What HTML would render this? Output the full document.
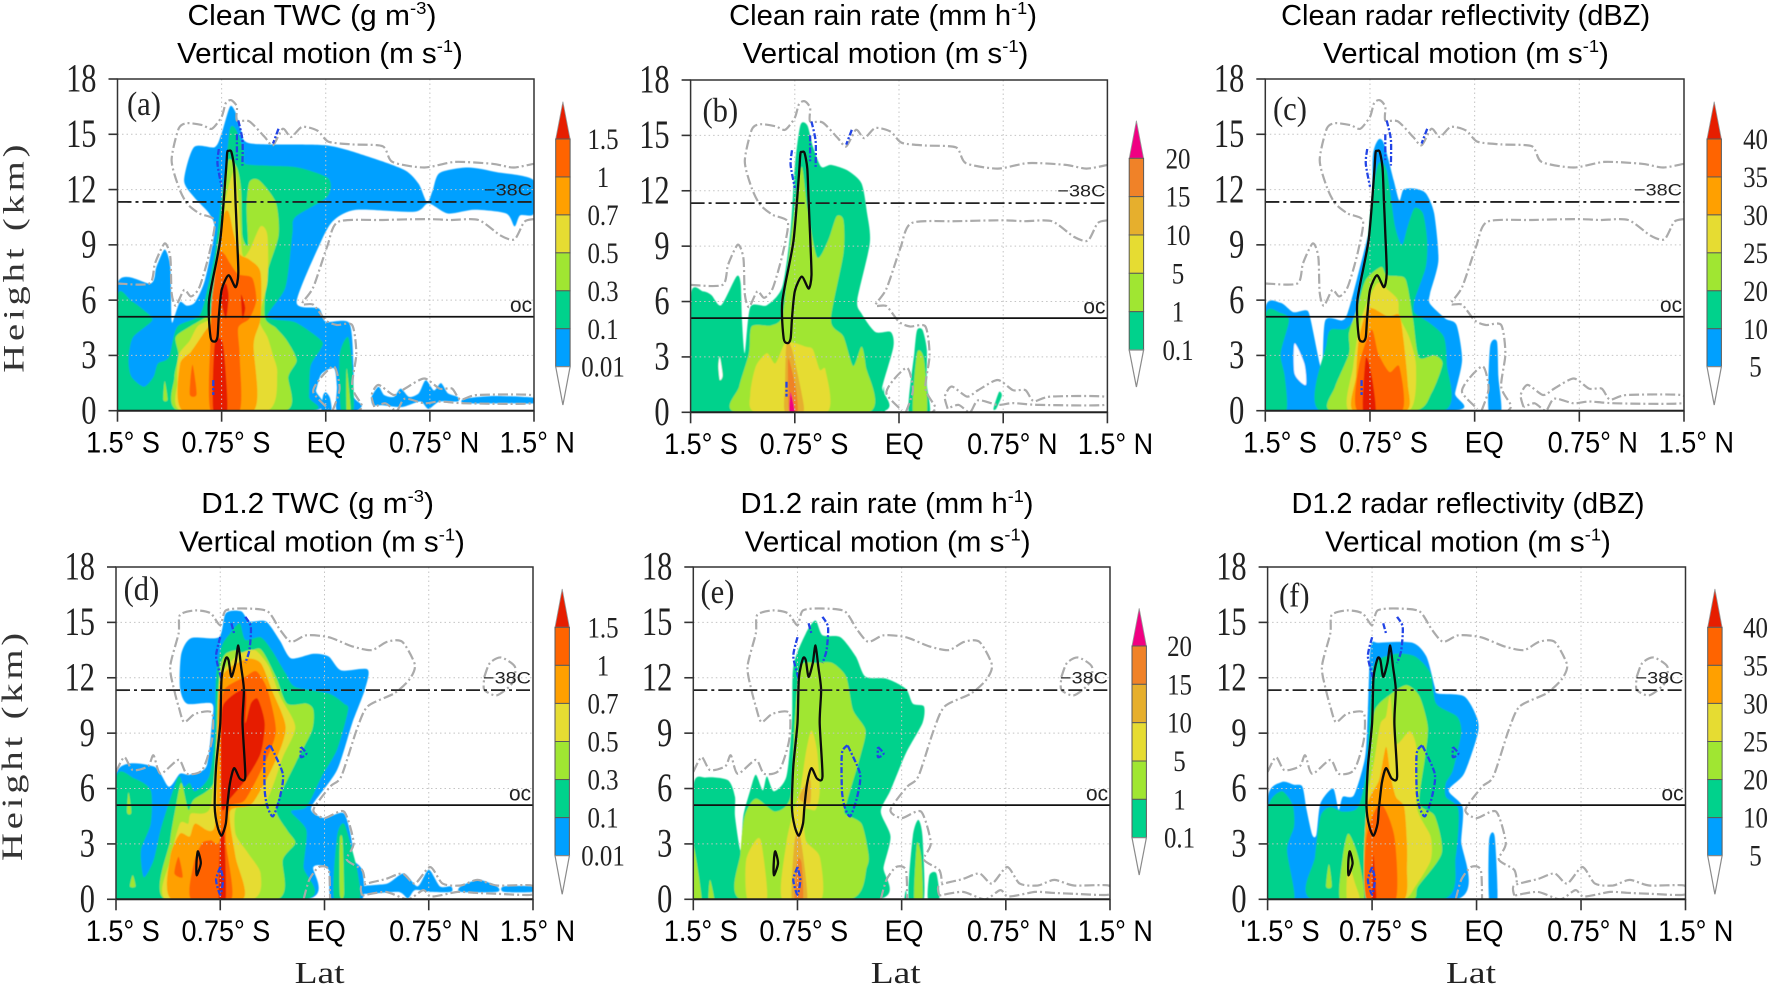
<!DOCTYPE html>
<html lang="en">
<head>
<meta charset="utf-8">
<title>Clean and D1.2 latitude-height cross sections</title>
<style>
html,body{margin:0;padding:0;background:#fff;}
svg{display:block;}
</style>
</head>
<body>
<svg id="fig" xmlns="http://www.w3.org/2000/svg" width="1768" height="986" viewBox="0 0 1768 986">
<defs><filter id="soft" x="-5%" y="-5%" width="110%" height="110%"><feGaussianBlur stdDeviation="0.5"/></filter></defs>
</svg>
<script>
/* ---------- axis categories and tick labels ---------- */
const latTicks = [-1.5, -0.75, 0, 0.75, 1.5];
const latLabels = ['1.5° S', '0.75° S', 'EQ', '0.75° N', '1.5° N'];
const heightTicks = [0, 3, 6, 9, 12, 15, 18];
const freezingLevelKm = 5.1;
const homogeneousLevelKm = 11.33;
const twcTicks = ['1.5', '1', '0.7', '0.5', '0.3', '0.1', '0.01'];
const rainTicks = ['20', '15', '10', '5', '1', '0.1'];
const dbzTicks = ['40', '35', '30', '25', '20', '10', '5'];

/* ---------- all shapes below are flat lists: lat, km, lat, km ... ---------- */
/* (a) Clean TWC */
const aLevel1 = [
 [-1.5,0,-1.5,6.9,-1.26,6.9,-1.22,7.8,-1.16,8.75,-1.12,7.8,-1.11,4.9,-1.09,5.1,-1.05,5.9,-1,5.7,-.94,5.9,-.87,7.1,-.8,9.8,-.84,10.7,-.95,11.6,-1.02,12.5,-.95,14.3,-.8,14.3,-.75,15.05,-.69,16.5,-.65,16.2,-.61,15.2,-.54,14.5,0,14.4,.3,13.8,.57,13.05,.67,12.3,.73,11.3,.77,11.95,.82,12.9,1.02,13.2,1.23,12.95,1.5,12.5,1.5,10.7,1.4,10.6,1.36,10,1.3,10.7,1.07,10.9,.88,10.7,.74,11.25,.64,10.8,.22,10.9,.06,10.35,-.03,9.25,-.21,5.9,-.05,5.55,0,4.83,.17,4.75,.2,2.4,.2,.8,.26,.3,.22,0,.08,0,.08,1.3,.06,2.3,-.03,2,-.07,1.1,-.1,0],
 [-.03,0,-.02,.8,0,1,.03,.7,.04,0],
 [.33,.75,.38,1.3,.42,.85,.49,.75,.54,1.2,.6,.75,.67,.95,.72,1.65,.78,1.1,.83,1.5,.88,.95,.95,.75,.95,.5,.82,.5,.74,.1,.68,.5,.55,.2,.41,.3,.34,.3],
 [1,.65,1.21,.8,1.5,.7,1.5,.4,1.3,.4,1,.4]
];
const aLevel2 = [
 [-1.5,0,-1.5,6.2,-1.4,5.95,-1.31,5.45,-1.25,4.9,-1.39,3.96,-1.42,2.75,-1.4,1.85,-1.31,1.3,-1.24,1.85,-1.21,2.55,-1.13,2.9,-1.07,4.55,-.91,5.15,-.85,6.7,-.8,8.5,-.75,11.6,-.72,13.2,-.69,15.3,-.65,15.3,-.59,14.1,-.58,13.4,-.42,13.3,-.2,13.2,.02,12.6,.01,11.6,-.22,10.5,-.24,9.6,-.29,6.7,-.42,5.1,-.22,4.8,-.03,3.8,-.04,3.3,-.11,2.4,-.12,.75,-.13,0],
 [.11,0,.1,3,.16,4,.19,2.5,.2,0]
];
const aLevel3 = [
 [-1.06,0,-1.09,1.8,-1.06,3,-1.08,4,-.97,4.6,-.8,5.4,-.77,6.2,-.75,9,-.74,11.6,-.7,13.6,-.64,13.2,-.61,12,-.6,9.5,-.56,9,-.57,11,-.55,12.4,-.48,12.5,-.36,11.3,-.34,9.5,-.42,7.5,-.44,5.1,-.36,4.5,-.28,3.8,-.21,2.75,-.27,1.85,-.29,0],
 [.15,0,.15,2.3,.18,0],
 [-1.17,.6,-1.16,1.6,-1.14,.6]
];
const aLevel4 = [
 [-1.04,0,-1.07,1.5,-1.06,3,-.98,3.8,-.92,4.6,-.8,5.2,-.78,7,-.75,9,-.72,11.5,-.66,13,-.63,11.5,-.6,8.5,-.55,8.7,-.47,10,-.42,9.5,-.42,7,-.48,5,-.42,4,-.38,3,-.35,2,-.42,0]
];
const aLevel5 = [
 [-1.03,0,-1.05,2.5,-.97,3.2,-.88,4.2,-.8,5.2,-.8,7.5,-.74,10.5,-.7,10.8,-.66,9.5,-.62,8.5,-.55,8.2,-.47,7.5,-.47,5,-.52,3.6,-.52,0]
];
const aLevel6 = [
 [-.83,0,-.83,4,-.82,6,-.77,8.5,-.73,8.5,-.69,8,-.63,7.4,-.53,7.2,-.5,6,-.55,5,-.63,4.5,-.62,3,-.62,0],
 [-.98,.9,-.96,2.5,-.93,.9]
];
const aLevel7 = [
 [-.81,0,-.8,3.6,-.74,3.6,-.71,0],
 [-.76,6.3,-.72,6.9,-.7,6.2,-.72,5],
 [-.61,6.3,-.58,5.6,-.6,5]
];
/* (b) Clean rain rate */
const bLevel1 = [
 [-1.5,0,-1.5,6.35,-1.41,6.55,-1.35,6.35,-1.28,5.8,-1.17,7.35,-1.14,7,-1.13,5,-1.11,3.2,-1.07,5.7,-.95,5.8,-.84,6.8,-.78,9.9,-.75,13.3,-.71,15.55,-.66,15.55,-.62,14.4,-.56,13.3,-.49,13.4,-.37,13.1,-.27,12.4,-.23,10.8,-.21,9.15,-.3,6.1,-.27,5.35,-.17,4.35,-.06,4.35,-.04,3.55,-.12,1.4,-.15,0],
 [-.12,0,-.11,1.4,-.1,0],
 [.07,0,.11,3.2,.13,4.45,.17,4.45,.2,3.4,.2,1.55,.22,0],
 [.68,.2,.72,1.1,.74,.9,.7,.2]
];
const bHole = [[-1.29,3,-1.27,2,-1.29,1.75,-1.3,2.5]];
const bLevel2 = [
 [-1.17,0,-1.15,1.4,-1.08,3.2,-1.06,4.65,-.92,4.7,-.84,5.2,-.8,7.9,-.75,11.1,-.7,13.3,-.66,11.1,-.59,8.4,-.51,9.3,-.45,10.6,-.4,10.4,-.4,8.6,-.49,5,-.4,4.1,-.33,2.5,-.27,3.55,-.24,2.5,-.22,0],
 [.1,0,.13,3.2,.18,2.85,.2,0]
];
const bLevel3 = [[-1.03,0,-1.07,1,-1.03,2.5,-.95,3.2,-.89,2.65,-.82,3.75,-.75,3.75,-.67,3.55,-.62,3.4,-.57,2.3,-.53,2.3,-.52,0]];
const bLevel4 = [[-.82,0,-.82,1.55,-.81,3.75,-.77,3.4,-.7,1,-.69,0]];
const bLevel5 = [[-.79,0,-.8,2.5,-.79,2.85,-.74,1.2,-.73,0]];
const bLevel6 = [[-.79,0,-.78,1.1,-.75,0]];
/* (c) Clean radar reflectivity */
const cLevel1 = [
 [-1.5,0,-1.5,5.55,-1.39,5.85,-1.3,5.35,-1.21,5.45,-1.18,5.1,-1.11,2.55,-1.09,2.4,-1.07,4.9,-.95,4.9,-.91,5.3,-.84,7.25,-.74,10.5,-.73,13.8,-.69,14.7,-.65,14.5,-.58,12.5,-.54,11.4,-.51,12,-.43,12.05,-.35,11.8,-.29,10.7,-.26,8.15,-.32,6.35,-.32,5.8,-.21,5,-.13,4.65,-.09,2.75,-.14,.95,-.15,0],
 [.1,0,.11,3.45,.16,3.75,.17,1.85,.19,0]
];
const cHole = [[-1.29,3.65,-1.22,2.55,-1.21,1.4,-1.29,2]];
const cLevel2 = [
 [-1.5,0,-1.5,5.2,-1.39,5.3,-1.33,4.9,-1.39,3.1,-1.36,1.85,-1.35,0],
 [-1.11,0,-1.06,3.65,-1.03,4.4,-.92,4.45,-.85,5.3,-.78,8.35,-.74,11.4,-.69,13.4,-.63,13.05,-.57,10,-.52,9,-.48,10,-.43,11,-.37,10.7,-.34,9.25,-.35,7.8,-.43,6,-.43,5.3,-.32,4.75,-.22,4,-.2,2.55,-.22,0]
];
const cLevel3 = [[-1.03,0,-1,1.3,-.9,3.1,-.9,4.2,-.84,5.6,-.78,7.1,-.67,7.8,-.63,7.35,-.51,7.25,-.48,6.7,-.44,4.9,-.4,2.9,-.29,3,-.23,2.55,-.31,.95,-.43,0]];
const cLevel4 = [[-.9,0,-.87,2.4,-.84,4,-.8,5.3,-.7,6.9,-.62,6.55,-.55,6,-.54,5.1,-.47,4,-.42,2.4,-.47,0]];
const cLevel5 = [[-.87,0,-.85,1.85,-.83,3.85,-.76,5.55,-.62,5.1,-.54,5.2,-.51,3.85,-.48,1.5,-.49,0]];
const cLevel6 = [[-.84,0,-.83,2.4,-.74,4.4,-.69,3.1,-.61,2.1,-.54,2.4,-.52,0]];
const cLevel7 = [[-.8,0,-.78,2.85,-.74,2,-.71,0]];
/* (d) D1.2 TWC */
const dLevel1 = [
 [-1.5,0,-1.5,6.8,-1.23,7.2,-1.12,6.1,-1.04,6.8,-.97,6.75,-.85,7.2,-.81,9.55,-.81,10.6,-.99,10.6,-1.04,11.5,-1.03,13.3,-.96,14.15,-.76,14.2,-.71,15.5,-.6,15.6,-.54,15.05,-.42,15.05,-.32,14,-.24,13.05,-.08,13.3,.03,13.15,.12,12.4,.31,12.45,.29,11.35,.2,9.55,.09,7,-.08,5.2,-.09,4.75,0,4.4,.14,4.65,.2,3,.18,2.3,.27,1.6,.27,0,.05,0,.03,1.6,-.08,1.75,-.13,0],
 [.28,.7,.45,.85,.57,1.4,.67,.7,.75,1.6,.83,.7,.91,.7,.91,.4,.76,.4,.65,.5,.6,.05,.53,.4,.28,.3],
 [.98,.7,1.11,1.05,1.24,.7,1.24,.4,.98,.4],
 [1.29,.7,1.5,.7,1.5,.4,1.29,.4]
];
const dLevel2 = [
 [-1.5,0,-1.5,6.55,-1.37,6.55,-1.25,5.9,-1.25,4.1,-1.32,2.65,-1.3,1.2,-1.23,2.1,-1.18,3.75,-1.12,5.2,-1.05,6.65,-1.01,6.1,-.97,6.3,-.93,5.85,-.83,6.65,-.79,8.8,-.78,12.05,-.74,13.7,-.68,14.4,-.61,14.95,-.57,14.05,-.46,14.2,-.38,13.5,-.28,12.25,-.21,11.5,.03,11.15,.14,10.6,.17,10.25,.09,8.1,-.02,6.65,-.13,5,-.24,4.75,-.13,3.75,-.15,1.75,-.14,0],
 [.07,0,.09,3.4,.14,4.1,.2,2.65,.24,1.4,.25,0]
];
const dLevel3 = [
 [-1.15,0,-1.11,3.2,-1.07,5,-1.03,6.3,-.98,4.85,-.94,5.4,-.79,6.45,-.77,10.6,-.75,12.6,-.71,13.3,-.63,13.5,-.57,13.3,-.46,13.55,-.35,12.05,-.27,10.6,-.13,10.6,-.08,10.25,-.09,9.15,-.21,7.35,-.35,5,-.27,3.75,-.21,3.05,-.3,2.15,-.34,0],
 [.11,.3,.11,3.2,.13,3.2,.14,.3],
 [-1.42,4.7,-1.41,5.8,-1.39,4.7],
 [-1.4,.7,-1.38,1.3,-1.36,.7]
];
const dLevel4 = [
 [-1.14,0,-1.11,2.15,-1.04,4.1,-.98,4.1,-.96,4.65,-.82,5,-.77,9.55,-.75,12.05,-.68,12.8,-.61,13.3,-.5,13.5,-.4,12.6,-.32,11,-.21,9.35,-.3,7.7,-.43,5.2,-.63,5,-.64,3.55,-.55,2.5,-.46,1.4,-.52,0]
];
const dLevel5 = [
 [-1.1,0,-1.11,2.3,-1.04,3.55,-.97,3.4,-.93,4.1,-.79,3.95,-.77,9.55,-.74,12.05,-.57,13,-.46,12.8,-.38,11.35,-.28,9.35,-.35,7.55,-.52,5.2,-.68,4.75,-.64,2.3,-.59,0]
];
const dLevel6 = [
 [-.96,0,-.94,1.95,-.88,3.05,-.82,3.2,-.75,3.4,-.75,9.55,-.72,11.35,-.57,12.05,-.49,12.35,-.41,11.35,-.35,9.2,-.41,7.7,-.57,5.4,-.68,5,-.71,3.2,-.67,0],
 [-1.08,1.4,-1.05,2.3,-1.02,1.2]
];
const dLevel7 = [
 [-.76,0,-.75,3.4,-.72,3.4,-.71,0],
 [-.74,9.9,-.7,10.8,-.57,11.35,-.57,9.55,-.53,10.6,-.48,10.85,-.43,9.55,-.46,7.9,-.57,6.45,-.68,5.45,-.74,5]
];
/* (e) D1.2 rain rate */
const eLevel1 = [
 [-1.5,0,-1.5,6.1,-1.41,6.6,-1.25,6.45,-1.2,5.55,-1.2,4.5,-1.16,2.65,-1.14,4.5,-1.09,5.9,-1.05,6.75,-1,5.9,-.97,6.65,-.92,5.85,-.83,6.65,-.79,9.55,-.78,12.6,-.69,14.4,-.62,15.1,-.57,14.3,-.44,14.2,-.33,13.15,-.26,12.05,-.11,11.95,.03,11.4,.08,10.6,.16,10.45,.15,9.55,.03,7.9,-.08,5.9,-.15,4.75,-.08,3.4,-.13,1.75,-.17,0],
 [.02,0,.03,.5,.04,0],
 [.05,0,.08,3.4,.12,4.3,.15,3.4,.16,0],
 [.19,0,.2,1.3,.25,1.4,.27,0]
];
const eLevel2 = [
 [-1.5,0,-1.5,2.95,-1.44,0],
 [-1.39,0,-1.38,1.05,-1.35,0],
 [-1.16,0,-1.16,2.5,-1.13,4.5,-1.05,5.45,-.91,4.75,-.8,5.55,-.77,9.55,-.73,12.6,-.61,12.8,-.5,12.8,-.4,12.05,-.35,10.25,-.26,9.15,-.3,7.7,-.39,5.4,-.41,4.65,-.29,4.1,-.24,2.5,-.25,1.75,-.37,0],
 [.09,0,.11,3,.14,2.3,.15,0]
];
const eLevel3 = [
 [-1.11,0,-1.12,2.1,-1.05,3.2,-1.01,3.05,-.97,0],
 [-.86,0,-.83,3.05,-.77,5,-.73,5.9,-.69,7.9,-.65,9.15,-.61,8.1,-.59,5.9,-.62,4.85,-.7,4.85,-.69,3.2,-.59,2.3,-.58,0]
];
const eLevel4 = [
 [-.79,0,-.77,3.2,-.73,3.4,-.68,0],
 [-.74,5.5,-.66,6.5,-.66,5.2]
];
const eLevel5 = [[-.77,0,-.75,2.1,-.72,1.95,-.71,0]];
/* (f) D1.2 radar reflectivity */
const fLevel1 = [
 [-1.5,0,-1.5,5.45,-1.4,6.35,-1.31,6.2,-1.25,6.1,-1.22,4.85,-1.18,3.5,-1.15,3.5,-1.12,5.2,-1.03,6,-.99,4.85,-.96,5.55,-.88,5.65,-.8,7.7,-.78,10.25,-.76,13.7,-.7,13.9,-.46,13.9,-.36,13.15,-.3,11.5,-.28,11.15,-.09,11,0,9.9,.01,9,-.09,6.8,-.2,5.9,-.1,5,-.11,3.2,-.14,0],
 [.09,0,.09,3.2,.13,3.4,.15,0]
];
const fLevel2 = [
 [-1.5,0,-1.5,4.85,-1.4,5.85,-1.32,5.1,-1.31,3.95,-1.36,2.65,-1.31,0],
 [-1.18,0,-1.16,2.3,-1.12,4.5,-1.05,5,-.96,4.75,-.85,5,-.79,7,-.76,11,-.73,12.8,-.58,13.3,-.44,13.15,-.33,12.25,-.29,10.6,-.14,9.9,-.11,9,-.17,7,-.22,6.3,-.22,5.55,-.13,4.85,-.15,2.3,-.24,0]
];
const fLevel3 = [
 [-.98,0,-.96,2.3,-.92,3.55,-.85,2.3,-.81,0],
 [-.79,0,-.79,5.2,-.76,8.1,-.73,10.25,-.61,11.15,-.5,11.6,-.41,11,-.35,9.35,-.37,7.7,-.41,5.2,-.3,4.5,-.25,2.5,-.42,.7,-.46,0],
 [-1.08,.7,-1.06,1.9,-1.04,.7]
];
const fLevel4 = [
 [-.93,0,-.92,1.9,-.87,.8,-.84,0],
 [-.79,0,-.79,5,-.73,7.7,-.69,9.5,-.65,9.9,-.62,11,-.58,8.45,-.48,9.1,-.43,8.1,-.43,5,-.33,3.4,-.33,2.1,-.44,.7,-.52,0]
];
const fLevel5 = [[-.79,0,-.79,4.85,-.7,6.45,-.65,8.25,-.62,6.8,-.58,5.55,-.52,5,-.5,3.05,-.5,1.75,-.52,0]];
const fLevel6 = [[-.79,0,-.79,3.4,-.69,5.2,-.59,3.4,-.58,0]];
const fLevel7 = [[-.75,0,-.74,2.4,-.72,0]];

/* ---------- overlay contours ---------- */
const cloudEdgeClean = [
 [-1.5,6.9,-1.27,6.9,-1.23,8,-1.16,9.08,-1.12,8.35,-1.11,6.4,-1.08,5.7,-1.02,6.55,-.97,6.2,-.91,6.7,-.84,8.5,-.8,10.3,-.91,10.7,-1,11.25,-1.06,12.15,-1.11,13.6,-1.06,15.3,-1,15.6,-.89,15.5,-.82,15.3,-.75,15.95,-.72,16.7,-.68,16.85,-.64,16.5,-.64,15.75,-.55,15.7,-.44,14.85,-.38,14.4,-.31,15.3,-.25,14.85,-.17,15.4,-.06,15.2,.02,14.6,.19,14.45,.41,14.35,.48,13.5,.71,13.2,.93,13.5,1.2,13.4,1.35,13.2,1.5,13.4],
 [1.5,10.4,1.43,10.25,1.36,9.3,1.26,9.5,1.1,10.35,.9,10.35,.74,10.4,.41,10.35,.09,10.25,.01,8.9,-.09,6.7,-.17,5.8,-.09,5.75,0,4.9,.08,4.65,.19,4.65,.22,3.1,.19,1.3,.26,.3,.24,0],
 [.05,0,.1,1.2,.06,2.4,-.04,1.75,-.09,1,.02,.1],
 [.35,.2,.33,.85,.38,1.4,.49,.85,.57,1.2,.71,1.75,.82,1.2,.91,1.2,.97,.6,1.09,.85,1.48,.85,1.48,.4,1.01,.4,.82,.5,.71,.4,.57,.65,.51,0,.43,.4,.35,.2]
];
const cloudEdgeD12 = [
 [-1.5,6.9,-1.44,7.7,-1.38,7,-1.27,7.2,-1.23,7.8,-1.18,6.8,-1.05,7.55,-.99,6.8,-.88,7,-.81,8.6,-.81,10.1,-.93,10.05,-1.01,9.6,-1.05,10.45,-1.08,11.3,-1.11,12.6,-1.05,14.4,-1.04,15.4,-.93,15.65,-.82,15.5,-.75,14.85,-.71,15.65,-.57,15.75,-.41,15.6,-.32,14.6,-.24,13.95,-.13,14.3,.03,14.2,.2,13.7,.34,13.5,.45,13.95,.56,13.95,.65,12.7,.61,11.9,.5,11.15,.31,10.45,.23,9.15,.12,6.65,.04,6.1,-.08,4.85,0,4.4,.14,4.75,.21,3.05,.16,2.15,.27,1.6,.29,.9],
 [1.15,12.05,1.19,12.8,1.27,13.1,1.37,12.6,1.35,11.7,1.24,11.05,1.15,11.35,1.15,12.05],
 [-.15,0,-.11,1.05,-.04,1.75,.03,1.6,.04,0],
 [.27,.2,.27,.75,.44,1.1,.56,1.4,.65,.85,.76,1.75,.85,.85,.98,.75,1.1,1.05,1.24,.75,1.49,.75,1.49,.25,1.24,.3,1.08,.35,.96,.4,.77,.15,.71,.5,.6,0,.44,.4,.27,.2]
];
const updraftClean = [
 [-.7,14.1,-.68,14.05,-.66,13.2,-.65,11.4,-.64,9.6,-.63,7.45,-.65,6.7,-.7,7.35,-.75,6.55,-.77,5.1,-.78,4,-.8,3.75,-.83,4,-.84,6,-.76,9.25,-.72,12.9,-.71,14]
];
const updraftD12 = [
 [-.62,13.75,-.6,12.6,-.58,11.35,-.59,9.55,-.57,6.65,-.61,6.55,-.65,7.1,-.68,6.3,-.7,5,-.71,4.1,-.74,3.45,-.77,3.95,-.79,5,-.78,7.2,-.75,9.55,-.74,12,-.71,13.05,-.69,12.95,-.67,12.05,-.64,12.8],
 [-.91,2.6,-.89,1.95,-.92,1.3,-.92,2.1]
];
const downdraftClean = [
 [-.77,14.2,-.78,13.4,-.75,12.15],
 [-.63,15.75,-.6,14.7,-.6,13.3],
 [-.64,15,-.64,13.6],
 [-.34,15.3,-.38,14.5],
 [-.81,1.66,-.81,.85]
];
const downdraftD12 = [
 [-.75,14.2,-.78,13.15,-.74,11.9],
 [-.67,14.95,-.65,14.4],
 [-.57,15.3,-.53,14.75,-.54,13.5,-.57,12.8],
 [-.39,8.35,-.43,7.9,-.43,5.9,-.41,5,-.37,4.5,-.32,5.55,-.3,6.8,-.39,8.35],
 [-.17,8.25,-.13,7.9,-.17,7.7,-.17,8.25],
 [-.75,1.75,-.78,1.05,-.75,.25,-.73,1.05,-.75,1.75]
];

/* ---------- palettes ---------- */
const massPalette = ['#00a0ff','#00d28c','#a0e632','#e6dc32','#ffa000','#ff6400','#e61e00'];
const rainPalette = ['#00d28c','#a0e632','#e6dc32','#e6af2d','#f08228','#f00082'];

const SVGNS = 'http://www.w3.org/2000/svg';
const root = document.getElementById('fig');
const SERIF = '"Liberation Serif", serif';
const SANS = '"Liberation Sans", sans-serif';

const panels = [
 {id:'a', left:117.5, right:534, top:79, bottom:410.7, title:['Clean TWC (g m','-3',')'], t1:[312,249], t2:320, baseY:[25,63], palette:massPalette, levels:[aLevel1,aLevel2,aLevel3,aLevel4,aLevel5,aLevel6,aLevel7], holes:[], cloud:cloudEdgeClean, up:updraftClean, down:downdraftClean, latDx:0, tag:[127,115], yTitle:[23.7,256.7], bar:{x:555.7,tip:101.7,base:139,bottom:366.7,end:405}, ticks:twcTicks, tickX:603, xTitle:null},
 {id:'b', left:690.6, right:1107.4, top:80, bottom:412.3, title:['Clean rain rate (mm h','-1',')'], t1:[883,308], t2:885.5, baseY:[25,63], palette:rainPalette, levels:[bLevel1,bLevel2,bLevel3,bLevel4,bLevel5,bLevel6], holes:bHole, cloud:cloudEdgeClean, up:updraftClean, down:downdraftClean, latDx:4.9, tag:[702.5,121.7], yTitle:null, bar:{x:1129.2,tip:120.7,base:158.3,bottom:350,end:387}, ticks:rainTicks, tickX:1178, xTitle:null},
 {id:'c', left:1265.3, right:1684, top:79, bottom:410.7, title:['Clean radar reflectivity (dBZ)','',''], t1:[1465.6,369], t2:1466, baseY:[25,63], palette:massPalette, levels:[cLevel1,cLevel2,cLevel3,cLevel4,cLevel5,cLevel6,cLevel7], holes:cHole, cloud:cloudEdgeClean, up:updraftClean, down:downdraftClean, latDx:9.2, tag:[1273,120], yTitle:null, bar:{x:1707,tip:101.7,base:139,bottom:366.7,end:405}, ticks:dbzTicks, tickX:1755.5, xTitle:null},
 {id:'d', left:116, right:533, top:567, bottom:899.3, title:['D1.2 TWC (g m','-3',')'], t1:[317.6,233], t2:322, baseY:[513,551.7], palette:massPalette, levels:[dLevel1,dLevel2,dLevel3,dLevel4,dLevel5,dLevel6,dLevel7], holes:[], cloud:cloudEdgeD12, up:updraftD12, down:downdraftD12, latDx:1.3, tag:[123.6,600], yTitle:[22,745], bar:{x:555,tip:589,base:627.3,bottom:855.7,end:894.3}, ticks:twcTicks, tickX:603, xTitle:319.6},
 {id:'e', left:693.3, right:1110, top:567, bottom:899.3, title:['D1.2 rain rate (mm h','-1',')'], t1:[887,293], t2:887.7, baseY:[513,551.7], palette:rainPalette, levels:[eLevel1,eLevel2,eLevel3,eLevel4,eLevel5], holes:[], cloud:cloudEdgeD12, up:updraftD12, down:downdraftD12, latDx:2, tag:[700.5,603], yTitle:null, bar:{x:1132,tip:608.3,base:646,bottom:837.7,end:875}, ticks:rainTicks, tickX:1179.5, xTitle:895.7},
 {id:'f', left:1267.6, right:1685.5, top:567, bottom:899.3, title:['D1.2 radar reflectivity (dBZ)','',''], t1:[1468,353], t2:1468, baseY:[513,551.7], palette:massPalette, levels:[fLevel1,fLevel2,fLevel3,fLevel4,fLevel5,fLevel6,fLevel7], holes:[], cloud:cloudEdgeD12, up:updraftD12, down:downdraftD12, latDx:7, tag:[1279,606.7], yTitle:null, bar:{x:1707.7,tip:589,base:627.3,bottom:855.7,end:894.3}, ticks:dbzTicks, tickX:1755.5, xTitle:1471}
];

function xScale(p, lat){ return p.left + (lat + 1.5) / 3 * (p.right - p.left); }
function yScale(p, km){ return p.bottom - km / 18 * (p.bottom - p.top); }

function shape(parent, tag, name){
  const el = document.createElementNS(SVGNS, tag);
  
  
  parent.appendChild(el);
  return el;
}
function toPts(p, flat){
  const pts = [];
  for (let i = 0; i < flat.length; i += 2) pts.push([xScale(p, flat[i]), yScale(p, flat[i + 1])]);
  return pts;
}
function curve(pts, closed){
  const n = pts.length, k = 1 / 8;
  const at = i => closed ? pts[(i + n) % n] : pts[Math.max(0, Math.min(n - 1, i))];
  let d = 'M' + pts[0][0].toFixed(1) + ' ' + pts[0][1].toFixed(1);
  const segs = closed ? n : n - 1;
  for (let i = 0; i < segs; i++) {
    const a = at(i - 1), b = at(i), c = at(i + 1), e = at(i + 2);
    d += 'C' + (b[0] + (c[0] - a[0]) * k).toFixed(1) + ' ' + (b[1] + (c[1] - a[1]) * k).toFixed(1) + ' ' +
         (c[0] - (e[0] - b[0]) * k).toFixed(1) + ' ' + (c[1] - (e[1] - b[1]) * k).toFixed(1) + ' ' +
         c[0].toFixed(1) + ' ' + c[1].toFixed(1);
  }
  return d + (closed ? 'Z' : '');
}
function label(parent, name, txt, x, y, o){
  const el = shape(parent, 'text', name);
  el.setAttribute('font-family', o.family);
  el.setAttribute('font-size', o.size);
  el.setAttribute('fill', o.fill || '#111');
  el.setAttribute('text-anchor', o.anchor || 'middle');
  if (o.spacing) el.setAttribute('letter-spacing', o.spacing);
  if (Array.isArray(txt)) {
    el.appendChild(document.createTextNode(txt[0]));
    if (txt[1]) {
      const sup = document.createElementNS(SVGNS, 'tspan');
      sup.setAttribute('font-size', o.size * 0.62);
      sup.setAttribute('dy', -o.size * 0.38);
      sup.textContent = txt[1];
      el.appendChild(sup);
      const end = document.createElementNS(SVGNS, 'tspan');
      end.setAttribute('dy', o.size * 0.38);
      end.textContent = txt[2];
      el.appendChild(end);
    }
  } else {
    el.textContent = txt;
  }
  let sx = o.sx || 1;
  if (o.width) sx = o.width / el.getComputedTextLength();
  el.setAttribute('transform', 'translate(' + x + ' ' + y + ')' + (o.rotate ? ' rotate(' + o.rotate + ')' : '') + ' scale(' + sx.toFixed(3) + ' 1)');
  return el;
}

function drawPanel(p){
  const g = shape(root, 'g', 'panel-' + p.id);
  const w = p.right - p.left, h = p.bottom - p.top;

  label(g, 'panel-' + p.id + '-title', p.title, p.t1[0], p.baseY[0], {family:SANS, size:29, width:p.t1[1], fill:'#000'});
  label(g, 'panel-' + p.id + '-subtitle', ['Vertical motion (m s','-1',')'], p.t2, p.baseY[1], {family:SANS, size:29, width:286, fill:'#000'});

  const clipId = 'clip-' + p.id;
  const defs = root.querySelector('defs');
  const cp = document.createElementNS(SVGNS, 'clipPath');
  cp.setAttribute('id', clipId);
  const cr = document.createElementNS(SVGNS, 'rect');
  cr.setAttribute('x', p.left); cr.setAttribute('y', p.top);
  cr.setAttribute('width', w); cr.setAttribute('height', h);
  cp.appendChild(cr);
  defs.appendChild(cp);

  const fills = shape(g, 'g', 'panel-' + p.id + '-filled-contours');
  fills.setAttribute('clip-path', 'url(#' + clipId + ')');
  const soft = shape(fills, 'g', 'panel-' + p.id + '-contour-levels');
  soft.setAttribute('filter', 'url(#soft)');
  p.levels.forEach(function(level, li){
    level.forEach(function(poly){
      const path = shape(soft, 'path', 'panel-' + p.id + '-contour-level-' + (li + 1));
      path.setAttribute('d', curve(toPts(p, poly), true));
      path.setAttribute('fill', p.palette[li]);
    });
    if (li === 0) p.holes.forEach(function(poly){
      const hole = shape(soft, 'path', 'panel-' + p.id + '-contour-gap');
      hole.setAttribute('d', curve(toPts(p, poly), true));
      hole.setAttribute('fill', '#fff');
    });
  });

  /* grid */
  [3, 6, 9, 12, 15].forEach(function(km){
    const l = shape(g, 'line', 'panel-' + p.id + '-gridline-h');
    l.setAttribute('x1', p.left); l.setAttribute('x2', p.right);
    l.setAttribute('y1', yScale(p, km)); l.setAttribute('y2', yScale(p, km));
    l.setAttribute('stroke', '#c4c4c4'); l.setAttribute('stroke-width', 1);
    l.setAttribute('stroke-dasharray', '1.5 3');
  });
  [-0.75, 0, 0.75].forEach(function(lat){
    const l = shape(g, 'line', 'panel-' + p.id + '-gridline-v');
    l.setAttribute('x1', xScale(p, lat)); l.setAttribute('x2', xScale(p, lat));
    l.setAttribute('y1', p.top); l.setAttribute('y2', p.bottom);
    l.setAttribute('stroke', '#c4c4c4'); l.setAttribute('stroke-width', 1);
    l.setAttribute('stroke-dasharray', '1.5 3');
  });

  const over = shape(g, 'g', 'panel-' + p.id + '-overlays');
  over.setAttribute('clip-path', 'url(#' + clipId + ')');
  p.cloud.forEach(function(line){
    const path = shape(over, 'path', 'panel-' + p.id + '-cloud-boundary');
    path.setAttribute('d', curve(toPts(p, line), false));
    path.setAttribute('fill', 'none');
    path.setAttribute('stroke', '#ababab');
    path.setAttribute('stroke-width', 2.2);
    path.setAttribute('stroke-dasharray', '10 3 2 3');
  });
  p.down.forEach(function(line){
    const path = shape(over, 'path', 'panel-' + p.id + '-downdraft-contour');
    path.setAttribute('d', curve(toPts(p, line), false));
    path.setAttribute('fill', 'none');
    path.setAttribute('stroke', '#2244e6');
    path.setAttribute('stroke-width', 2.3);
    path.setAttribute('stroke-dasharray', '6 2 2 2');
  });
  p.up.forEach(function(line){
    const path = shape(over, 'path', 'panel-' + p.id + '-updraft-contour');
    path.setAttribute('d', curve(toPts(p, line), true));
    path.setAttribute('fill', 'none');
    path.setAttribute('stroke', '#0c0c0c');
    path.setAttribute('stroke-width', 2.3);
  });

  /* reference levels */
  const fz = shape(g, 'line', 'panel-' + p.id + '-freezing-level-line');
  fz.setAttribute('x1', p.left); fz.setAttribute('x2', p.right);
  fz.setAttribute('y1', yScale(p, freezingLevelKm)); fz.setAttribute('y2', yScale(p, freezingLevelKm));
  fz.setAttribute('stroke', '#111'); fz.setAttribute('stroke-width', 1.8);
  const hm = shape(g, 'line', 'panel-' + p.id + '-minus-38c-line');
  hm.setAttribute('x1', p.left); hm.setAttribute('x2', p.right);
  hm.setAttribute('y1', yScale(p, homogeneousLevelKm)); hm.setAttribute('y2', yScale(p, homogeneousLevelKm));
  hm.setAttribute('stroke', '#222'); hm.setAttribute('stroke-width', 1.8);
  hm.setAttribute('stroke-dasharray', '14 4 3 4');
  label(g, 'panel-' + p.id + '-minus-38c-label', '−38C', p.right - 2, yScale(p, homogeneousLevelKm) - 6.5, {family:SANS, size:17, anchor:'end', width:48, fill:'#222'});
  label(g, 'panel-' + p.id + '-freezing-label', 'oc', p.right - 2, yScale(p, freezingLevelKm) - 4.5, {family:SANS, size:21, anchor:'end', width:22, fill:'#222'});

  /* frame */
  const frame = shape(g, 'rect', 'panel-' + p.id + '-plot-frame');
  frame.setAttribute('x', p.left); frame.setAttribute('y', p.top);
  frame.setAttribute('width', w); frame.setAttribute('height', h);
  frame.setAttribute('fill', 'none'); frame.setAttribute('stroke', '#333'); frame.setAttribute('stroke-width', 1.5);
  const base = shape(g, 'line', 'panel-' + p.id + '-x-axis-line');
  base.setAttribute('x1', p.left); base.setAttribute('x2', p.right);
  base.setAttribute('y1', p.bottom); base.setAttribute('y2', p.bottom);
  base.setAttribute('stroke', '#222'); base.setAttribute('stroke-width', 2);

  /* axes */
  heightTicks.forEach(function(km){
    const y = yScale(p, km);
    const t = shape(g, 'line', 'panel-' + p.id + '-y-tick');
    t.setAttribute('x1', p.left - 9); t.setAttribute('x2', p.left);
    t.setAttribute('y1', y); t.setAttribute('y2', y);
    t.setAttribute('stroke', '#333'); t.setAttribute('stroke-width', 1.6);
    label(g, 'panel-' + p.id + '-y-tick-label', String(km), p.left - 21, y + 12.7, {family:SERIF, size:40, anchor:'end', sx:0.76, fill:'#222'});
  });
  latTicks.forEach(function(lat, i){
    const x = xScale(p, lat);
    const t = shape(g, 'line', 'panel-' + p.id + '-x-tick');
    t.setAttribute('x1', x); t.setAttribute('x2', x);
    t.setAttribute('y1', p.bottom); t.setAttribute('y2', p.bottom + 11);
    t.setAttribute('stroke', '#333'); t.setAttribute('stroke-width', 1.6);
    const offsetsFromTick = [5.5, 4.3, 0, 4.2, 3.2];
    const txt = (p.id === 'f' && i === 0) ? "'" + latLabels[i] : latLabels[i];
    label(g, 'panel-' + p.id + '-x-tick-label', txt, x + offsetsFromTick[i] + p.latDx + (i === 2 ? 0.4 : 0), p.bottom + 41.6, {family:SANS, size:30, sx:0.9, fill:'#000'});
  });

  label(g, 'panel-' + p.id + '-letter', '(' + p.id + ')', p.tag[0], p.tag[1], {family:SERIF, size:34, anchor:'start', sx:0.9, fill:'#222'});

  if (p.yTitle) label(g, 'panel-' + p.id + '-y-axis-title', 'Height  (km)', p.yTitle[0], p.yTitle[1], {family:SERIF, size:30, rotate:-90, width:232, spacing:3, fill:'#333'});
  if (p.xTitle) label(g, 'panel-' + p.id + '-x-axis-title', 'Lat', p.xTitle, 983, {family:SERIF, size:31, width:50, fill:'#222'});

  drawColorbar(g, p);
}

function drawColorbar(g, p){
  const b = p.bar, bw = 14.4, cb = shape(g, 'g', 'panel-' + p.id + '-colorbar');
  const boxes = p.palette.length - 1;
  const step = (b.bottom - b.base) / boxes;
  const edge = '#5a5a5a';
  const topTri = shape(cb, 'polygon', 'panel-' + p.id + '-colorbar-top-arrow');
  topTri.setAttribute('points', b.x + ',' + b.base + ' ' + (b.x + bw / 2) + ',' + b.tip + ' ' + (b.x + bw) + ',' + b.base);
  topTri.setAttribute('fill', p.palette[boxes]);
  topTri.setAttribute('stroke', '#999'); topTri.setAttribute('stroke-width', 0.8);
  for (let i = 0; i < boxes; i++) {
    const r = shape(cb, 'rect', 'panel-' + p.id + '-colorbar-box');
    r.setAttribute('x', b.x); r.setAttribute('y', b.base + i * step);
    r.setAttribute('width', bw); r.setAttribute('height', step);
    r.setAttribute('fill', p.palette[boxes - 1 - i]);
    r.setAttribute('stroke', edge); r.setAttribute('stroke-width', 1);
  }
  const lowTri = shape(cb, 'polygon', 'panel-' + p.id + '-colorbar-bottom-arrow');
  lowTri.setAttribute('points', b.x + ',' + b.bottom + ' ' + (b.x + bw / 2) + ',' + b.end + ' ' + (b.x + bw) + ',' + b.bottom);
  lowTri.setAttribute('fill', '#fff');
  lowTri.setAttribute('stroke', '#8a8a8a'); lowTri.setAttribute('stroke-width', 1.2);
  p.ticks.forEach(function(tk, i){
    label(cb, 'panel-' + p.id + '-colorbar-label', tk, p.tickX, b.base + i * step + 10, {family:SERIF, size:30, sx:0.83, fill:'#222'});
  });
}

panels.forEach(drawPanel);
</script>
</body>
</html>
